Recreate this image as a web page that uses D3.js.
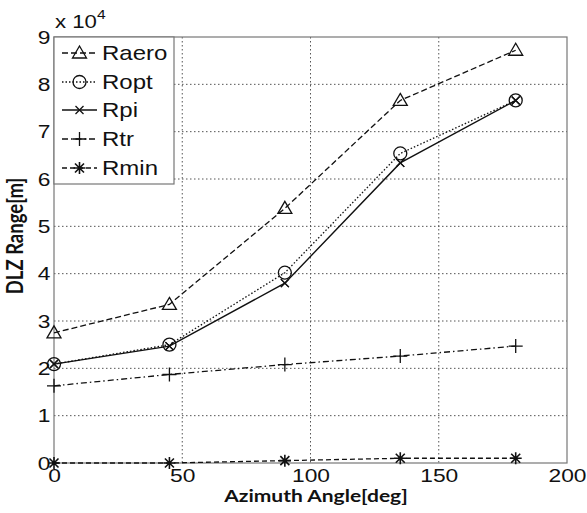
<!DOCTYPE html>
<html><head><meta charset="utf-8">
<script src="https://cdn.jsdelivr.net/npm/d3@7"></script>
<style>body{margin:0;background:#fff}svg{display:block}</style>
</head><body>
<svg id="c" width="587" height="513"></svg>
<script>
const angles = [0, 45, 90, 135, 180];
const Raero = [2.75, 3.35, 5.38, 7.66, 8.72];
const Ropt  = [2.09, 2.50, 4.02, 6.54, 7.66];
const Rpi   = [2.09, 2.47, 3.80, 6.34, 7.66];
const Rtr   = [1.63, 1.87, 2.08, 2.26, 2.47];
const Rmin  = [0.00, 0.00, 0.05, 0.10, 0.10];
const xTicks = [0, 50, 100, 150, 200];
const yTicks = [0, 1, 2, 3, 4, 5, 6, 7, 8, 9];
const seriesNames = ["Raero", "Ropt", "Rpi", "Rtr", "Rmin"];
const seriesData = [Raero, Ropt, Rpi, Rtr, Rmin];

const L = 54, R = 567, T = 37, B = 463;
const SX = 1.2; // horizontal stretch of the original picture
const FONT = "Liberation Sans, Arial, sans-serif";
const svg = d3.select("#c");
const x = d3.scaleLinear().domain([0, 200]).range([L, R]);
const y = d3.scaleLinear().domain([0, 9]).range([B, T]);

const styles = {
  Raero: {dash: "6,3", marker: "tri"},
  Ropt: {dash: "1.5,2", marker: "circ"},
  Rpi: {dash: null, marker: "x"},
  Rtr: {dash: "6,3,1.5,3", marker: "plus"},
  Rmin: {dash: "5,3", marker: "star"}
};

// grid
const g = svg.append("g");
xTicks.slice(1, -1).forEach(t => g.append("line").attr("x1", x(t)).attr("x2", x(t)).attr("y1", T).attr("y2", B)
  .attr("stroke", "#555").attr("stroke-width", 1).attr("stroke-dasharray", "1.5,2.5"));
yTicks.slice(1, -1).forEach(t => g.append("line").attr("x1", L).attr("x2", R).attr("y1", y(t)).attr("y2", y(t))
  .attr("stroke", "#555").attr("stroke-width", 1).attr("stroke-dasharray", "1.5,2.5"));

// frame
svg.append("rect").attr("x", L).attr("y", T).attr("width", R - L).attr("height", B - T)
  .attr("fill", "none").attr("stroke", "#777").attr("stroke-width", 1.2);

// axes
const xAxis = d3.axisBottom(x).tickValues(xTicks).tickSize(0).tickPadding(6);
const yAxis = d3.axisLeft(y).tickValues(yTicks).tickSize(0).tickPadding(3.5);
const ax = svg.append("g").attr("transform", `translate(0,${B})`).call(xAxis);
const ay = svg.append("g").attr("transform", `translate(${L},0)`).call(yAxis);
[ax, ay].forEach(a => {
  a.select(".domain").remove();
  a.selectAll("text").attr("font-family", FONT).attr("font-size", 19).attr("fill", "#111")
    .attr("transform", `scale(${SX},1)`);
});
ay.selectAll("text").attr("x", -3.5 / SX);

// markers
function drawMarker(sel, type, cx, cy) {
  const s = sel.append("g").attr("transform", `translate(${cx},${cy})`)
    .attr("fill", "none").attr("stroke", "#111").attr("stroke-width", 1.3);
  if (type === "tri") s.append("path").attr("d", "M0,-7L7,5L-7,5Z");
  else if (type === "circ") s.append("circle").attr("r", 6.5);
  else if (type === "x") s.append("path").attr("d", "M-4,-4L4,4M-4,4L4,-4");
  else if (type === "plus") s.append("path").attr("d", "M-7,0L7,0M0,-7L0,7");
  else if (type === "star") s.append("path").attr("d", "M-6,0L6,0M0,-6L0,6M-4.5,-4.5L4.5,4.5M-4.5,4.5L4.5,-4.5").attr("stroke-width", 1.6);
}

const line = d3.line().x(d => x(d[0])).y(d => y(d[1]));
seriesNames.forEach((n, i) => {
  const pts = angles.map((a, j) => [a, seriesData[i][j]]);
  const st = styles[n];
  svg.append("path").attr("d", line(pts)).attr("fill", "none").attr("stroke", "#111")
    .attr("stroke-width", n === "Rpi" ? 1.4 : 1.3).attr("stroke-dasharray", st.dash);
  pts.forEach(p => drawMarker(svg, st.marker, x(p[0]), y(p[1])));
});
angles.forEach((a, j) => drawMarker(svg, "x", x(a), y(Rpi[j])));

// legend
const lg = svg.append("g");
lg.append("rect").attr("x", L).attr("y", T).attr("width", 120).attr("height", 147)
  .attr("fill", "#fff").attr("stroke", "#777").attr("stroke-width", 1.2);
const legY = [53, 82, 110, 139, 168];
seriesNames.forEach((n, i) => {
  const st = styles[n];
  lg.append("line").attr("x1", 62).attr("x2", 97).attr("y1", legY[i]).attr("y2", legY[i])
    .attr("stroke", "#111").attr("stroke-width", 1.3).attr("stroke-dasharray", st.dash);
  drawMarker(lg, st.marker, 79.5, legY[i]);
  lg.append("text").attr("transform", `translate(102,${legY[i] + 7}) scale(${SX},1)`).text(n)
    .attr("font-family", FONT).attr("font-size", 20).attr("fill", "#111");
});

// exponent
const ex = svg.append("text").attr("transform", `translate(55,28) scale(${SX},1)`)
  .attr("font-family", FONT).attr("font-size", 18.5).attr("fill", "#111");
ex.append("tspan").text("x 10");
ex.append("tspan").attr("dy", -9).attr("font-size", 13).text("4");

// titles
svg.append("text").attr("transform", `translate(316,502) scale(${SX},1)`).attr("text-anchor", "middle")
  .attr("font-family", "Lato, Carlito, sans-serif").attr("font-weight", "bold").attr("font-size", 17.5)
  .attr("fill", "#111").text("Azimuth Angle[deg]");
svg.append("text").attr("transform", `translate(23,236) rotate(-90) scale(1,${SX})`).attr("text-anchor", "middle")
  .attr("font-family", "Lato, Carlito, sans-serif").attr("font-weight", "bold").attr("font-size", 18.5)
  .attr("fill", "#111").text("DLZ Range[m]");
</script>
</body></html>
